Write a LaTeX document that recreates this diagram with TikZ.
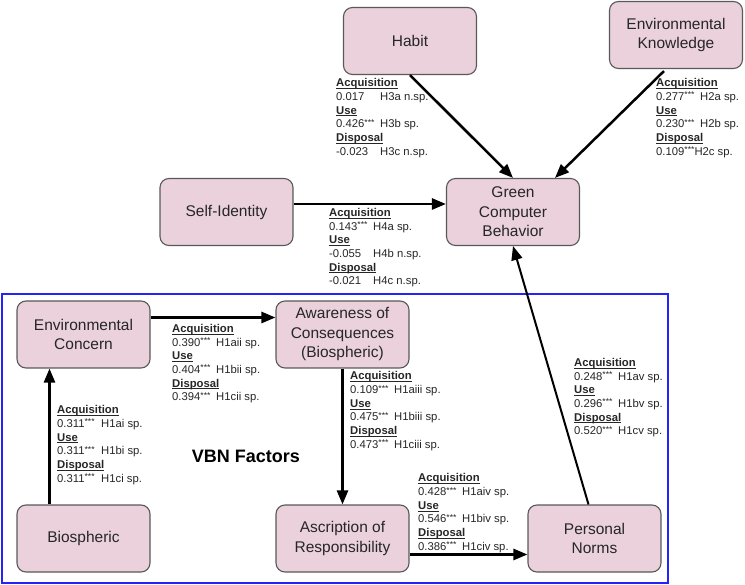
\documentclass[tikz,border=0pt]{standalone}
\usepackage{fontspec}
\setmainfont{Liberation Sans}
\usetikzlibrary{arrows.meta,calc}
\definecolor{boxfill}{HTML}{EAD1DC}
\definecolor{boxline}{HTML}{595959}
\definecolor{vbnblue}{HTML}{2424F8}
\newcommand\hd[1]{\setbox0\hbox{\textbf{#1}}\rlap{\rule[-2.2pt]{\wd0}{0.9pt}}\box0}
\newcommand\st{\raisebox{2.6pt}{\fontsize{8.6}{8.6}\selectfont ***}}
\newcommand\nn[1]{\makebox[44pt][l]{#1}}
\begin{document}
\begin{tikzpicture}[x=1pt,y=-1pt,
  factor/.style={draw=boxline, line width=1.1pt, fill=boxfill, rounded corners=9pt,
    minimum width=133pt, minimum height=67pt, align=center,
    font=\fontsize{15.5}{19.5}\selectfont, text=black!85, inner sep=2pt},
  arr/.style={line width=2.5pt, -{Triangle[length=14pt,width=11pt]}},
  lbl/.style={anchor=north west, inner sep=0pt, align=left,
    font=\fontsize{11.3}{13.67}\selectfont, text=black!85}
]
\useasboundingbox (0,0) rectangle (745,585);
\draw[vbnblue, line width=2pt] (2,294) rectangle (668,583);

\node[factor] (Habit) at (410,41) {Habit};
\node[factor] (EK) at (676,35) {Environmental\\Knowledge};
\node[factor] (SI) at (226.5,212) {Self-Identity};
\node[factor] (GCB) at (513,212) {Green\\Computer\\Behavior};
\node[factor] (EC) at (83.5,334.5) {Environmental\\Concern};
\node[factor] (AoC) at (342.5,334.5) {Awareness of\\Consequences\\(Biospheric)};
\node[factor] (Bio) at (83.5,538.5) {Biospheric};
\node[factor] (AoR) at (342.5,538.5) {Ascription of\\Responsibility};
\node[factor] (PN) at (594.5,538.5) {Personal\\Norms};

\draw[arr] (Habit.south) -- (GCB.north);
\draw[arr] ($(EK.south)+(-12,2)$) -- ($(GCB.north)+(42,0)$);
\draw[arr] ($(SI.east)+(0,-8)$) -- ($(GCB.west)+(0,-8)$);
\draw[arr] ($(EC.east)+(0,-17)$) -- ($(AoC.west)+(0,-17)$);
\draw[arr] ($(Bio.north)+(-34,0)$) -- ($(EC.south)+(-34,0)$);
\draw[arr] (AoC.south) -- (AoR.north);
\draw[arr] ($(AoR.east)+(0,16)$) -- ($(PN.west)+(0,16)$);
\draw[arr, line width=2pt] ($(PN.north)+(-6,0)$) -- (GCB.south);

\node[lbl] (l3) at (336,78.3) {\hd{Acquisition}\\ \nn{0.017}H3a n.sp.\\ \hd{Use}\\ \nn{0.426\st}H3b sp.\\ \hd{Disposal}\\ \nn{-0.023}H3c n.sp.};
\node[lbl] (l2) at (656,78.3) {\hd{Acquisition}\\ \nn{0.277\st}H2a sp.\\ \hd{Use}\\ \nn{0.230\st}H2b sp.\\ \hd{Disposal}\\ 0.109\st{}H2c sp.};
\node[lbl] (l4) at (329,208) {\hd{Acquisition}\\ \nn{0.143\st}H4a sp.\\ \hd{Use}\\ \nn{-0.055}H4b n.sp.\\ \hd{Disposal}\\ \nn{-0.021}H4c n.sp.};
\node[lbl] (l1aii) at (172,324) {\hd{Acquisition}\\ \nn{0.390\st}H1aii sp.\\ \hd{Use}\\ \nn{0.404\st}H1bii sp.\\ \hd{Disposal}\\ \nn{0.394\st}H1cii sp.};
\node[lbl] (l1ai) at (57,405.3) {\hd{Acquisition}\\ \nn{0.311\st}H1ai sp.\\ \hd{Use}\\ \nn{0.311\st}H1bi sp.\\ \hd{Disposal}\\ \nn{0.311\st}H1ci sp.};
\node[lbl] (l1aiii) at (350,371.6) {\hd{Acquisition}\\ \nn{0.109\st}H1aiii sp.\\ \hd{Use}\\ \nn{0.475\st}H1biii sp.\\ \hd{Disposal}\\ \nn{0.473\st}H1ciii sp.};
\node[lbl] (l1aiv) at (418,473.6) {\hd{Acquisition}\\ \nn{0.428\st}H1aiv sp.\\ \hd{Use}\\ \nn{0.546\st}H1biv sp.\\ \hd{Disposal}\\ \nn{0.386\st}H1civ sp.};
\node[lbl] (l1av) at (574,358) {\hd{Acquisition}\\ \nn{0.248\st}H1av sp.\\ \hd{Use}\\ \nn{0.296\st}H1bv sp.\\ \hd{Disposal}\\ \nn{0.520\st}H1cv sp.};

\node[font=\fontsize{18}{22}\bfseries\selectfont, inner sep=0pt] (vbn) at (246,456) {VBN Factors};
\end{tikzpicture}
\end{document}
